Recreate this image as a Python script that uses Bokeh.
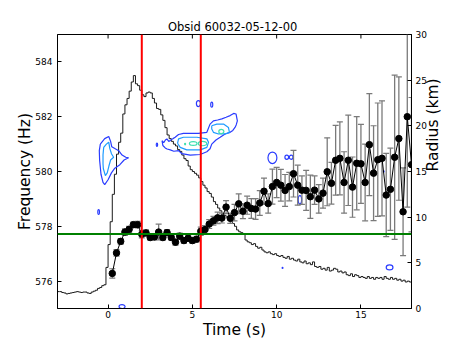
import math
import numpy as np
from bokeh.plotting import figure
from bokeh.models import Range1d, LinearAxis, FixedTicker, Span
from bokeh.embed import file_html
from bokeh.resources import INLINE

# ---------------- data ----------------
title_text = "Obsid  60032-05-12-00"
x_ticks = [0, 5, 10, 15]
freq_ticks = [576, 578, 580, 582, 584]
radius_ticks = [0, 5, 10, 15, 20, 25, 30]

# burst-oscillation frequency track (time s, frequency Hz, 1-sigma error Hz)
track_t = [0.25, 0.5, 0.75, 1.0, 1.25, 1.5, 1.75, 2.0, 2.25, 2.5, 2.75, 3.0,
           3.25, 3.5, 3.75, 4.0, 4.25, 4.5, 4.75, 5.0, 5.25, 5.5, 5.75, 6.0,
           6.25, 6.5, 6.75, 7.0, 7.25, 7.5, 7.75, 8.0, 8.25, 8.5, 8.75, 9.0,
           9.25, 9.5, 9.75, 10.0, 10.25, 10.5, 10.75, 11.0, 11.25, 11.5, 11.75, 12.0,
           12.25, 12.5, 12.75, 13.0, 13.25, 13.5, 13.75, 14.0, 14.25, 14.5, 14.75, 15.0,
           15.25, 15.5, 15.75, 16.0, 16.25, 16.5, 16.75, 17.0, 17.25, 17.5, 17.75, 18.0]
track_f = [576.28, 577.03, 577.45, 577.79, 577.89, 578.06, 578.06, 577.71, 577.76, 577.59, 577.61, 577.79,
           577.59, 577.77, 577.59, 577.42, 577.64, 577.48, 577.56, 577.48, 577.53, 577.82, 577.88, 578.08,
           578.20, 578.31, 578.30, 578.70, 578.29, 578.50, 578.82, 578.55, 578.77, 578.65, 578.63, 578.85,
           579.28, 578.83, 579.45, 579.60, 579.50, 579.31, 579.45, 579.92, 579.50, 579.32, 579.31, 579.08,
           579.32, 579.00, 579.21, 579.99, 579.57, 580.41, 580.48, 579.60, 580.41, 579.43, 580.30, 580.28,
           579.60, 580.98, 579.94, 580.43, 580.48, 579.14, 579.35, 580.52, 581.20, 578.53, 582.00, 580.25]
track_err = [0.17, 0.12, 0.10, 0.12, 0.11, 0.09, 0.12, 0.13, 0.11, 0.10, 0.10, 0.29,
             0.10, 0.11, 0.10, 0.11, 0.11, 0.10, 0.10, 0.10, 0.10, 0.15, 0.15, 0.16,
             0.16, 0.21, 0.18, 0.24, 0.18, 0.30, 0.36, 0.27, 0.33, 0.36, 0.38, 0.45,
             0.48, 0.35, 0.64, 0.55, 0.58, 0.58, 0.52, 0.85, 0.73, 0.52, 0.73, 0.79,
             0.52, 0.52, 0.55, 1.24, 0.76, 1.27, 1.33, 1.12, 1.65, 1.10, 1.70, 1.44,
             1.40, 1.86, 1.73, 2.07, 2.10, 1.52, 1.50, 3.00, 2.25, 1.60, 3.30, 2.45]

# light curve (right axis units), 0.125 s bins starting at -3 s
lc_start = -3.0
lc_bin = 0.125
lc_counts = [1.85, 1.85, 1.75, 1.70, 1.60, 1.65, 1.70, 1.75,
             1.80, 1.85, 1.80, 1.75, 1.80, 1.80, 1.70, 1.65,
             1.80, 1.90, 2.00, 2.20, 2.30, 2.50, 2.60, 4.50,
             7.0, 9.5, 12.5, 14.7, 16.9, 18.2, 19.2, 21.3,
             22.3, 23.0, 23.8, 24.8, 25.5, 24.6, 24.4, 23.9,
             23.4, 23.2, 23.6, 23.7, 23.6, 23.0, 22.5, 21.9,
             21.8, 21.2, 20.6, 19.8, 19.0, 18.6, 18.3, 18.0,
             17.8, 17.4, 17.2, 16.8, 16.4, 16.2, 15.6, 15.2,
             15.0, 14.8, 14.6, 14.3, 13.9, 13.5, 13.2, 12.8,
             12.6, 12.2, 11.7, 11.4, 11.0, 10.7, 10.4, 10.2,
             10.0, 9.8, 9.6, 9.3, 9.0, 8.6, 8.4, 8.3,
             8.2, 7.5, 7.3, 7.2, 7.0, 7.1, 6.8, 6.6,
             6.7, 6.4, 6.2, 6.1, 6.2, 6.0, 5.9, 6.0,
             5.8, 5.7, 5.8, 5.6, 5.5, 5.7, 5.4, 5.5,
             5.3, 5.2, 5.4, 5.1, 5.0, 5.2, 4.9, 5.0,
             4.8, 5.1, 4.6, 4.5, 4.6, 4.3, 4.4, 4.2,
             4.5, 4.1, 4.2, 4.4, 4.3, 4.0, 4.1, 3.9,
             4.0, 3.7, 3.6, 3.8, 3.5, 3.7, 3.6, 3.4,
             3.5, 3.4, 3.3, 3.5, 3.3, 3.4, 3.2, 3.4,
             3.3, 3.4, 3.2, 3.5, 3.3, 3.2, 3.4, 3.2,
             3.3, 3.1, 3.2, 3.0, 3.1, 2.9, 3.0, 2.9]

# marked interval and reference frequency
marker_times = [2.0, 5.5]
ref_freq = 577.72

# dynamic power spectrum contours (time s, frequency Hz)
c_left_outer_t = [-0.46, -0.2, 0.04, 0.15, 0.22, 0.45, 0.63, 0.83, 1.05, 1.22, 0.95, 0.7, 0.4, 0.2, 0.0, -0.2, -0.3, -0.42, -0.5, -0.52, -0.46]
c_left_outer_f = [581.0, 581.2, 581.28, 581.1, 580.9, 580.82, 580.76, 580.6, 580.52, 580.5, 580.42, 580.25, 580.12, 579.95, 579.7, 579.52, 579.6, 579.9, 580.4, 580.76, 581.0]
c_left_mid_t = [-0.26, -0.1, 0.04, 0.1, 0.2, 0.33, 0.15, 0.05, -0.05, -0.16, -0.28, -0.3, -0.3, -0.26]
c_left_mid_f = [580.88, 581.0, 581.07, 580.85, 580.65, 580.52, 580.42, 580.2, 579.95, 579.85, 580.1, 580.28, 580.6, 580.88]
c_main_outer_t = [3.2, 3.3, 3.4, 3.49, 3.6, 3.69, 3.85, 3.98, 4.18, 4.47, 5.0, 5.36, 5.86, 6.05, 6.25, 6.5, 6.75, 7.0, 7.24, 7.45, 7.59,
                  7.67, 7.6, 7.53, 7.4, 7.24, 6.94, 6.65, 6.4, 6.15, 6.05, 5.86, 5.46, 4.87, 4.38, 4.18, 3.9, 3.69, 3.5, 3.39, 3.25, 3.2]
c_main_outer_f = [581.13, 581.05, 581.15, 581.19, 581.1, 581.13, 581.2, 581.25, 581.35, 581.39, 581.39, 581.39, 581.43, 581.73, 581.85, 581.88, 581.92, 581.98, 582.04, 582.12, 582.1,
                  581.85, 581.7, 581.61, 581.5, 581.43, 581.37, 581.25, 581.15, 581.0, 580.83, 580.72, 580.62, 580.6, 580.65, 580.76, 580.74, 580.79, 580.82, 580.86, 580.95, 581.13]
c_main_mid_t = [4.12, 4.18, 4.47, 5.27, 5.86, 5.96, 5.86, 5.46, 4.67, 4.28, 4.12]
c_main_mid_f = [581.03, 581.19, 581.25, 581.25, 581.19, 581.07, 580.88, 580.79, 580.79, 580.88, 581.03]
c_right_mid_t = [6.15, 6.45, 6.85, 7.14, 7.2, 6.94, 6.55, 6.25, 6.15, 6.15]
c_right_mid_f = [581.67, 581.73, 581.73, 581.61, 581.43, 581.37, 581.37, 581.43, 581.55, 581.67]

# small closed contours as ellipses: centre t, centre f, extent in s, extent in Hz
blue_blob_t = [5.36, 6.15, -0.56, 0.83, 9.75, 10.6, 10.86, 11.38, 16.7, 10.35, 2.9, 16.35]
blue_blob_f = [582.48, 582.44, 578.52, 575.07, 580.5, 580.52, 580.52, 578.97, 576.5, 576.48, 580.98, 580.0]
blue_blob_w = [0.24, 0.12, 0.10, 0.36, 0.53, 0.22, 0.22, 0.20, 0.40, 0.05, 0.08, 0.05]
blue_blob_h = [0.22, 0.18, 0.18, 0.15, 0.42, 0.15, 0.15, 0.30, 0.18, 0.04, 0.12, 0.04]
green_blob_t = [5.05, 5.6, 6.72, 4.57]
green_blob_f = [581.02, 581.02, 581.46, 581.0]
green_blob_w = [0.45, 0.50, 0.30, 0.06]
green_blob_h = [0.14, 0.16, 0.16, 0.05]

# ---------------- figure ----------------
FONT = "DejaVu Sans"
p = figure(x_range=Range1d(-3, 18), y_range=Range1d(575, 585),
           frame_width=354, frame_height=274,
           min_border_left=57, min_border_top=34, min_border_right=0, min_border_bottom=0,
           output_backend="svg", toolbar_location=None)
p.extra_y_ranges = {"r": Range1d(0, 30)}
p.background_fill_color = "white"
p.border_fill_color = "white"
p.outline_line_color = "black"
p.grid.visible = False

p.title.text = title_text
p.title.align = "center"
p.title.text_font = FONT
p.title.text_font_size = "11.5px"
p.title.text_font_style = "normal"
p.title.text_color = "black"
p.title.standoff = 1

p.xaxis.ticker = FixedTicker(ticks=x_ticks)
p.xaxis.axis_label = "Time (s)"
p.yaxis.ticker = FixedTicker(ticks=freq_ticks)
p.yaxis.axis_label = "Frequency (Hz)"

ax_r = LinearAxis(y_range_name="r", ticker=FixedTicker(ticks=radius_ticks), axis_label="Radius (km)")
p.add_layout(ax_r, "right")

for ax in p.axis:
    ax.major_tick_in = 4
    ax.major_tick_out = 0
    ax.minor_tick_in = 0
    ax.minor_tick_out = 0
    ax.axis_line_color = "black"
    ax.major_tick_line_color = "black"
    ax.major_label_text_font = FONT
    ax.major_label_text_font_size = "9px"
    ax.major_label_text_color = "black"
    ax.axis_label_text_font = FONT
    ax.axis_label_text_font_size = "15.5px"
    ax.axis_label_text_font_style = "normal"
    ax.axis_label_text_color = "black"
    ax.axis_label_standoff = 0

p.yaxis[0].major_label_standoff = 5
p.yaxis[0].axis_label_standoff = -2
p.below[0].major_label_standoff = 2
ax_r.major_label_standoff = 4
ax_r.axis_label_standoff = 3
ax_r.axis_label_orientation = math.pi / 2

# inward tick marks along the top edge (clipped to the frame)
p.scatter(x=x_ticks, y=[p.y_range.end] * len(x_ticks), marker="dash", angle=math.pi / 2,
          size=8, line_color="black", line_width=1)

# light curve (step histogram)
edges = lc_start + lc_bin * np.arange(len(lc_counts) + 1)
step_y = list(lc_counts) + [lc_counts[-1]]
p.step(x=edges, y=step_y, mode="after", y_range_name="r", line_color="#1a1a1a", line_width=1)

# contours
p.multi_line(xs=[c_left_outer_t, c_main_outer_t], ys=[c_left_outer_f, c_main_outer_f],
             line_color="#2a3cff", line_width=1.2)
p.ellipse(x=blue_blob_t, y=blue_blob_f, width=blue_blob_w, height=blue_blob_h,
          fill_color=None, line_color="#2a3cff", line_width=1.2)
p.multi_line(xs=[c_left_mid_t, c_main_mid_t, c_right_mid_t], ys=[c_left_mid_f, c_main_mid_f, c_right_mid_f],
             line_color="#1e9bff", line_width=1.2)
p.ellipse(x=green_blob_t, y=green_blob_f, width=green_blob_w, height=green_blob_h,
          fill_color=None, line_color="#3fe0b0", line_width=1.2)

# frequency track with error bars
tf = np.array(track_f)
te = np.array(track_err)
p.segment(x0=track_t, y0=tf - te, x1=track_t, y1=tf + te, line_color="#7a7a7a", line_width=1.3)
p.scatter(x=track_t, y=tf - te, marker="dash", size=6, line_color="#7a7a7a", line_width=1.2)
p.scatter(x=track_t, y=tf + te, marker="dash", size=6, line_color="#7a7a7a", line_width=1.2)
p.line(x=track_t, y=track_f, line_color="black", line_width=1)
p.scatter(x=track_t, y=track_f, size=6.5, fill_color="black", line_color="black")

for tm in marker_times:
    p.add_layout(Span(location=tm, dimension="height", line_color="#ff0000", line_width=2))
p.add_layout(Span(location=ref_freq, dimension="width", line_color="#008000", line_width=2))

open("out.html", "w").write(file_html(p, INLINE))
